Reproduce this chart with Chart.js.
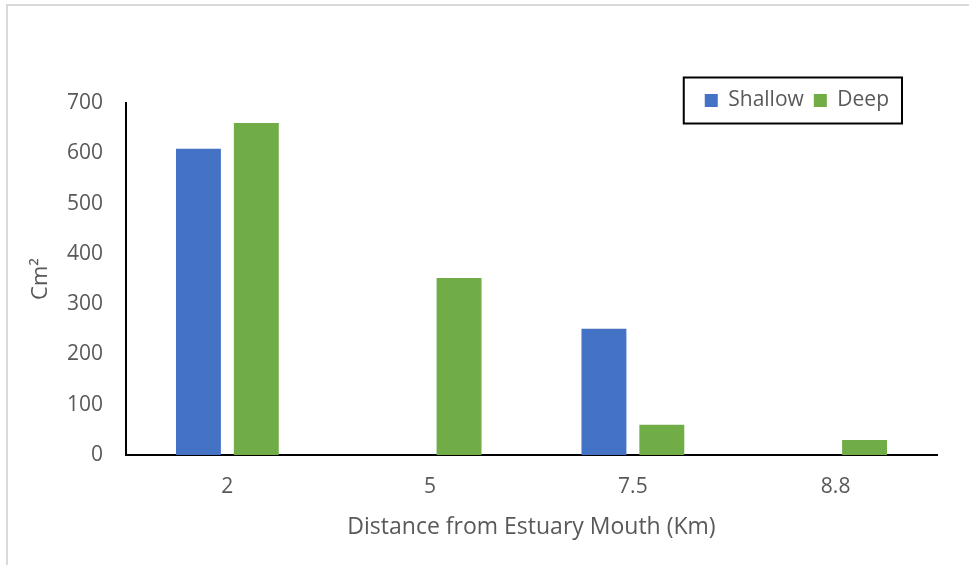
<!DOCTYPE html>
<html>
<head>
<meta charset="utf-8">
<title>Distance from Estuary Mouth</title>
<script src="https://cdn.jsdelivr.net/npm/chart.js@4/dist/chart.umd.min.js"></script>
<style>
  html, body { margin: 0; padding: 0; background: #ffffff; }
  #wrap { position: relative; width: 969px; height: 565px; }
</style>
</head>
<body>
<div id="wrap"><canvas id="chart" width="969" height="565"></canvas></div>
<script>
// Distance categories (km) and measured areas (cm²)
const distances = ['2', '5', '7.5', '8.8'];
const shallowValues = [609, 0, 251, 0];
const deepValues = [660, 352, 60, 30];
const yTicks = [0, 100, 200, 300, 400, 500, 600, 700];

const FONT = "'Open Sans', 'Noto Sans', sans-serif";
const TEXT = '#595959';

// light gray frame along the top and left edges
const framePlugin = {
  id: 'frame',
  beforeDraw(chart) {
    const ctx = chart.ctx;
    ctx.save();
    ctx.fillStyle = '#ffffff';
    ctx.fillRect(0, 0, chart.width, chart.height);
    ctx.strokeStyle = '#d9d9d9';
    ctx.lineWidth = 2;
    ctx.beginPath();
    ctx.moveTo(7, chart.height);
    ctx.lineTo(7, 5);
    ctx.lineTo(chart.width, 5);
    ctx.stroke();
    ctx.restore();
  }
};

// move the legend into the upper right of the plot and frame it
const legendBoxPlugin = {
  id: 'legendBox',
  afterLayout(chart) {
    const lg = chart.legend;
    if (!lg) return;
    const targetRight = 899, targetTop = 80;
    const dx = targetRight - lg.right;
    const dy = targetTop - lg.top;
    lg.left += dx; lg.right += dx;
    lg.top += dy; lg.bottom += dy;
  },
  afterDraw(chart) {
    const lg = chart.legend;
    if (!lg || !lg.legendHitBoxes || !lg.legendHitBoxes.length) return;
    const hb = lg.legendHitBoxes;
    const first = hb[0], last = hb[hb.length - 1];
    const cy = first.top + first.height / 2;
    const x0 = first.left - 21;
    const x1 = last.left + last.width + 13;
    const ctx = chart.ctx;
    ctx.save();
    ctx.strokeStyle = '#000000';
    ctx.lineWidth = 2;
    ctx.strokeRect(x0, cy - 23, x1 - x0, 46);
    ctx.restore();
  }
};

new Chart(document.getElementById('chart'), {
  type: 'bar',
  data: {
    labels: distances,
    datasets: [
      { label: 'Shallow', data: shallowValues, backgroundColor: '#4472C4', borderWidth: 0 },
      { label: 'Deep', data: deepValues, backgroundColor: '#70AD47', borderWidth: 0 }
    ]
  },
  options: {
    responsive: false,
    animation: false,
    devicePixelRatio: 1,
    layout: { padding: { left: 10, right: 32, top: 62, bottom: 10 } },
    datasets: { bar: { categoryPercentage: 0.571, barPercentage: 0.776 } },
    plugins: {
      tooltip: { enabled: false },
      legend: {
        position: 'top',
        align: 'end',
        labels: {
          boxWidth: 13,
          boxHeight: 13,
          padding: 10,
          color: TEXT,
          font: { family: FONT, size: 21 }
        }
      }
    },
    scales: {
      x: {
        grid: { display: false, drawTicks: false },
        border: { display: true, color: '#000000', width: 2 },
        ticks: { color: TEXT, font: { family: FONT, size: 21 }, padding: 19 },
        title: {
          display: true,
          text: 'Distance from Estuary Mouth (Km)',
          color: TEXT,
          font: { family: FONT, size: 23 },
          padding: { top: 0, bottom: 14 }
        },
        afterFit(scale) { scale.height = 100; }
      },
      y: {
        min: 0,
        max: 700,
        grid: { display: false, drawTicks: false },
        border: { display: true, color: '#000000', width: 2 },
        afterBuildTicks(scale) { scale.ticks = yTicks.map(v => ({ value: v })); },
        ticks: { color: TEXT, font: { family: FONT, size: 21 }, padding: 23 },
        title: {
          display: true,
          text: 'Cm²',
          color: TEXT,
          font: { family: FONT, size: 22 },
          padding: { top: 18, bottom: 0 }
        },
        afterFit(scale) { scale.width = 116; }
      }
    }
  },
  plugins: [framePlugin, legendBoxPlugin]
});
</script>
</body>
</html>
